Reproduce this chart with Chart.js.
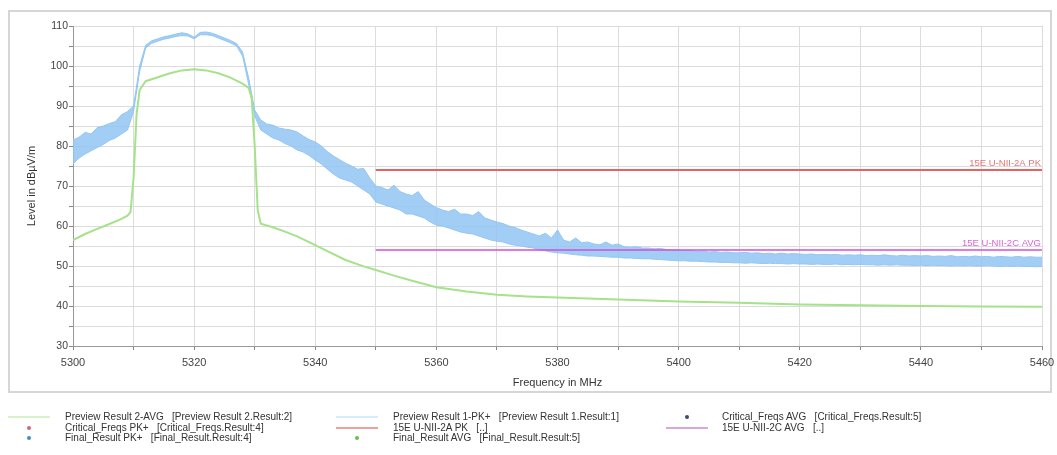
<!DOCTYPE html>
<html>
<head>
<meta charset="utf-8">
<script src="https://cdn.jsdelivr.net/npm/chart.js@4.4.0/dist/chart.umd.min.js"></script>
<style>
  html, body { margin: 0; padding: 0; background: #fff; }
  #wrap { position: relative; width: 1057px; height: 455px; }
  #legend { position: absolute; left: 0; top: 0; width: 1057px; height: 455px; pointer-events: none;
            font-family: "Liberation Sans", Arial, sans-serif; font-size: 10px; color: #333; }
  .lg-text { position: absolute; white-space: pre; line-height: 12px; transform: translateY(-6px); }
  .lg-line { position: absolute; height: 2px; width: 42px; transform: translateY(-1px); }
  .lg-dot { position: absolute; width: 4px; height: 4px; border-radius: 2px; transform: translate(-2px, -2px); }
</style>
</head>
<body>
<div id="wrap">
  <canvas id="emiChart" width="1057" height="455"></canvas>
  <div id="legend"></div>
</div>
<script>
// frequency grid of the PK+ preview scan (MHz)
const pkFreq = [
  5300, 5301, 5302, 5303, 5304, 5305, 5306, 5307, 5308, 5309,
  5310, 5311, 5312, 5313, 5314, 5315, 5316, 5317, 5318, 5319,
  5320, 5321, 5322, 5323, 5324, 5325, 5326, 5327, 5328, 5329,
  5330, 5331, 5332, 5333, 5334, 5335, 5336, 5337, 5338, 5339,
  5340, 5341, 5342, 5343, 5344, 5345, 5346, 5347, 5348, 5349,
  5350, 5351, 5352, 5353, 5354, 5355, 5356, 5357, 5358, 5359,
  5360, 5361, 5362, 5363, 5364, 5365, 5366, 5367, 5368, 5369,
  5370, 5371, 5372, 5373, 5374, 5375, 5376, 5377, 5378, 5379,
  5380, 5381, 5382, 5383, 5384, 5385, 5386, 5387, 5388, 5389,
  5390, 5391, 5392, 5393, 5394, 5395, 5396, 5397, 5398, 5399,
  5400, 5401, 5402, 5403, 5404, 5405, 5406, 5407, 5408, 5409,
  5410, 5411, 5412, 5413, 5414, 5415, 5416, 5417, 5418, 5419,
  5420, 5421, 5422, 5423, 5424, 5425, 5426, 5427, 5428, 5429,
  5430, 5431, 5432, 5433, 5434, 5435, 5436, 5437, 5438, 5439,
  5440, 5441, 5442, 5443, 5444, 5445, 5446, 5447, 5448, 5449,
  5450, 5451, 5452, 5453, 5454, 5455, 5456, 5457, 5458, 5459,
  5460
];

// Preview Result 1-PK+ : upper and lower edge of the noisy trace (dBuV/m)
const pkHigh = [
  81.5, 82.2, 83.4, 83.0, 84.6, 85.0, 85.6, 86.1, 87.8, 88.6,
  90.0, 100.0, 105.2, 106.3, 106.8, 107.3, 107.6, 108.0, 108.3, 108.0,
  107.2, 108.4, 108.5, 108.2, 107.6, 107.0, 106.4, 105.6, 103.5, 97.0,
  89.0, 86.5, 85.5, 85.2, 84.5, 84.2, 84.0, 83.5, 82.5, 81.6,
  81.0, 80.0, 78.6, 77.5, 76.6, 75.7, 75.0, 74.2, 74.4, 72.0,
  70.0, 69.6, 69.0, 70.2, 68.6, 68.0, 67.6, 68.6, 66.5, 65.5,
  64.6, 64.0, 63.6, 64.2, 63.0, 63.0, 62.6, 63.6, 62.0, 61.5,
  61.0, 60.6, 60.0, 59.6, 59.0, 58.5, 58.0, 57.5, 58.2, 57.0,
  59.0, 56.5, 56.0, 57.0, 55.8, 56.0, 55.5, 55.3, 56.0, 55.2,
  55.5, 54.8, 54.7, 54.8, 54.5, 54.5, 54.3, 54.4, 54.1, 54.0,
  54.0, 53.8, 53.9, 53.6, 53.7, 53.5, 53.6, 53.4, 53.5, 53.3,
  53.3, 53.4, 53.2, 53.3, 53.1, 53.2, 53.0, 53.2, 53.0, 53.1,
  53.0, 52.9, 53.0, 52.8, 52.9, 52.8, 52.9, 52.7, 52.8, 52.7,
  52.8, 52.6, 52.7, 52.6, 52.8, 52.6, 52.5, 52.7, 52.5, 52.6,
  52.5, 52.6, 52.4, 52.5, 52.4, 52.6, 52.3, 52.4, 52.3, 52.5,
  52.3, 52.4, 52.2, 52.4, 52.3, 52.2, 52.4, 52.2, 52.3, 52.2,
  52.2
];
const pkLow = [
  75.5, 77.0, 78.0, 78.8, 79.6, 80.4, 81.4, 82.0, 83.0, 84.0,
  88.6, 98.6, 104.5, 105.7, 106.2, 106.7, 107.0, 107.4, 107.6, 107.5,
  106.8, 107.8, 107.8, 107.6, 107.0, 106.4, 105.8, 105.0, 102.5, 95.5,
  87.5, 84.0, 83.0, 82.0, 81.5, 80.6, 80.0, 79.0, 78.5, 77.6,
  76.5, 75.5, 74.2, 73.0, 72.0, 71.5, 71.0, 70.0, 69.0, 68.0,
  66.0, 65.5, 65.0, 64.5, 64.0, 63.0, 63.0, 62.5, 62.0, 61.0,
  60.2, 60.0, 59.5, 59.0, 58.5, 58.2, 58.0, 57.5, 57.0, 56.5,
  56.2, 56.0, 55.5, 55.2, 55.0, 54.7, 54.5, 54.0, 53.8, 53.5,
  53.3, 53.2, 53.0, 52.8, 52.7, 52.5, 52.5, 52.4, 52.3, 52.2,
  52.2, 52.0, 52.0, 51.9, 51.8, 51.8, 51.7, 51.6, 51.5, 51.4,
  51.3, 51.3, 51.2, 51.2, 51.1, 51.0, 51.0, 50.9, 50.9, 50.8,
  50.8, 50.7, 50.8, 50.7, 50.6, 50.7, 50.6, 50.6, 50.5, 50.6,
  50.5, 50.5, 50.4, 50.5, 50.4, 50.4, 50.5, 50.3, 50.4, 50.3,
  50.4, 50.3, 50.3, 50.2, 50.3, 50.2, 50.3, 50.2, 50.2, 50.1,
  50.2, 50.1, 50.2, 50.1, 50.1, 50.0, 50.1, 50.0, 50.1, 50.0,
  50.0, 50.1, 50.0, 49.9, 50.0, 49.9, 50.0, 49.9, 49.9, 49.8,
  49.9
];

// Preview Result 2-AVG
const avgFreq = [
  5300, 5302, 5304, 5306, 5308, 5309, 5309.5, 5310, 5310.5, 5311,
  5312, 5314, 5316, 5318, 5320, 5322, 5324, 5326, 5328, 5329,
  5329.5, 5330, 5330.5, 5331, 5333, 5335, 5337, 5340, 5342, 5345,
  5348, 5350, 5353, 5356, 5360, 5365, 5370, 5375, 5380, 5390,
  5400, 5410, 5420, 5430, 5440, 5450, 5460
];
const avgLevel = [
  56.5, 58.0, 59.3, 60.5, 61.8, 62.6, 63.5, 72.0, 88.0, 94.0,
  96.2, 97.2, 98.2, 98.9, 99.2, 98.9, 98.2, 97.1, 95.6, 94.5,
  92.0, 80.0, 64.0, 60.6, 59.7, 58.6, 57.4, 55.2, 53.7, 51.5,
  49.9, 49.0, 47.6, 46.3, 44.7, 43.6, 42.8, 42.4, 42.1, 41.6,
  41.1, 40.8, 40.4, 40.2, 40.0, 39.9, 39.8
];

// limit lines
const limitFreq = [5350, 5460];
const limitPk = [74, 74];
const limitAvg = [54, 54];

// no critical / final measurements in this plot
const criticalPk = [];
const criticalAvg = [];
const finalPk = [];
const finalAvg = [];

const xTicks = [5300, 5320, 5340, 5360, 5380, 5400, 5420, 5440, 5460];
const yTicks = [30, 40, 50, 60, 70, 80, 90, 100, 110];

const pts = (xs, ys) => ys.map((y, i) => ({ x: xs[i], y: y }));
const FONT = '"Liberation Sans", Arial, sans-serif';

const limitLabelPlugin = {
    id: 'limitLabels',
    beforeDraw: function (chart) {
        // grauer Rahmen um das Diagramm
        const ctx = chart.ctx;
        ctx.save();
        ctx.strokeStyle = '#d6d6d6';
        ctx.lineWidth = 2;
        ctx.strokeRect(9, 11, 1042, 381);
        ctx.restore();
    },
    afterDatasetsDraw: function (chart) {
        const ctx = chart.ctx;
        const xs = chart.scales.x;
        const ys = chart.scales.y;
        const xr = xs.getPixelForValue(limitFreq[limitFreq.length - 1]) - 1;
        ctx.save();
        ctx.font = '9.5px ' + FONT;
        ctx.textAlign = 'right';
        ctx.textBaseline = 'bottom';
        ctx.fillStyle = '#e57777';
        ctx.fillText('15E U-NII-2A PK', xr, ys.getPixelForValue(limitPk[1]) - 2);
        ctx.fillStyle = '#d866d8';
        ctx.fillText('15E U-NII-2C AVG', xr, ys.getPixelForValue(limitAvg[1]) - 2);
        ctx.restore();
    }
};

const datasets = [
    { label: 'Preview Result 2-AVG   [Preview Result 2.Result:2]', data: pts(avgFreq, avgLevel),
      borderColor: '#a5e28a', borderWidth: 2, pointRadius: 0, fill: false, order: 5,
      legend: { kind: 'line', color: '#d8f2cc' } },
    { label: 'Preview Result 1-PK+   [Preview Result 1.Result:1]', data: pts(pkFreq, pkHigh),
      borderColor: '#92c6f3', borderWidth: 1, pointRadius: 0, fill: false, order: 6,
      legend: { kind: 'line', color: '#d6ecfa' } },
    { label: 'pk-low', data: pts(pkFreq, pkLow),
      borderColor: '#92c6f3', borderWidth: 1, pointRadius: 0, order: 6,
      fill: '-1', backgroundColor: 'rgba(146,198,243,0.85)' },
    { label: 'Critical_Freqs AVG   [Critical_Freqs.Result:5]', data: criticalAvg, showLine: false,
      legend: { kind: 'dot', color: '#3b4a7a' } },
    { label: 'Critical_Freqs PK+   [Critical_Freqs.Result:4]', data: criticalPk, showLine: false,
      legend: { kind: 'dot', color: '#d9637a' } },
    { label: '15E U-NII-2A PK   [..]', data: pts(limitFreq, limitPk),
      borderColor: '#e46464', borderWidth: 2, pointRadius: 0, fill: false, order: 1,
      legend: { kind: 'line', color: '#eca0a0' } },
    { label: '15E U-NII-2C AVG   [..]', data: pts(limitFreq, limitAvg),
      borderColor: '#d24fd6', borderWidth: 1.5, pointRadius: 0, fill: false, order: 2,
      legend: { kind: 'line', color: '#d9a6e0' } },
    { label: 'Final_Result PK+   [Final_Result.Result:4]', data: finalPk, showLine: false,
      legend: { kind: 'dot', color: '#3f8fc9' } },
    { label: 'Final_Result AVG   [Final_Result.Result:5]', data: finalAvg, showLine: false,
      legend: { kind: 'dot', color: '#63c24a' } }
];

const chart = new Chart(document.getElementById('emiChart').getContext('2d'), {
    type: 'line',
    data: { datasets: datasets },
    options: {
        responsive: false,
        animation: false,
        layout: { padding: { left: 20, top: 26, right: 15, bottom: 61 } },
        plugins: { legend: { display: false }, tooltip: { enabled: false } },
        elements: { line: { tension: 0 } },
        scales: {
            x: {
                type: 'linear', min: 5300, max: 5460,
                afterFit: function (s) {
                    s.height = 48;
                    // Randabstand fest, sonst wird die Fläche schmaler
                    s.paddingLeft = 0;
                    s.paddingRight = 12;
                },
                ticks: {
                    stepSize: 10, autoSkip: false, maxRotation: 0, padding: 6,
                    color: '#444', font: { family: FONT, size: 11 },
                    callback: v => xTicks.includes(v) ? String(v) : ''
                },
                grid: { color: '#dcdcdc', tickColor: '#888', tickLength: 4 },
                border: { color: '#999' },
                title: { display: true, text: 'Frequency in MHz', color: '#333',
                         font: { family: FONT, size: 11 }, padding: { top: 2, bottom: 4 } }
            },
            y: {
                min: 30, max: 110,
                afterFit: function (s) { s.width = 53; },
                ticks: {
                    stepSize: 5, padding: 1,
                    color: '#444', font: { family: FONT, size: 10.5 },
                    callback: v => yTicks.includes(v) ? String(v) : ''
                },
                grid: { color: '#dcdcdc', tickColor: '#888', tickLength: 4 },
                border: { color: '#999' },
                title: { display: true, text: 'Level in dBµV/m', color: '#333',
                         font: { family: FONT, size: 11 }, padding: { top: 5, bottom: 0 } }
            }
        }
    },
    plugins: [limitLabelPlugin]
});

// Legende unten, drei Spalten wie im Original
const legendOrder = [
    [0, 1, 3],
    [4, 5, 6],
    [7, 8]
];
const colSymbol = [29, 357, 687];
const colText = [65, 393, 722];
const rowY = [417, 428, 438];
const legendBox = document.getElementById('legend');
legendOrder.forEach((row, r) => {
    row.forEach((di, c) => {
        const ds = chart.data.datasets[di];
        const sym = document.createElement('div');
        if (ds.legend.kind === 'line') {
            sym.className = 'lg-line';
            sym.style.left = (colSymbol[c] - 21) + 'px';
        } else {
            sym.className = 'lg-dot';
            sym.style.left = colSymbol[c] + 'px';
        }
        sym.style.top = rowY[r] + 'px';
        sym.style.background = ds.legend.color;
        legendBox.appendChild(sym);
        const txt = document.createElement('div');
        txt.className = 'lg-text';
        txt.style.left = colText[c] + 'px';
        txt.style.top = rowY[r] + 'px';
        txt.textContent = ds.label;
        legendBox.appendChild(txt);
    });
});
</script>
</body>
</html>
